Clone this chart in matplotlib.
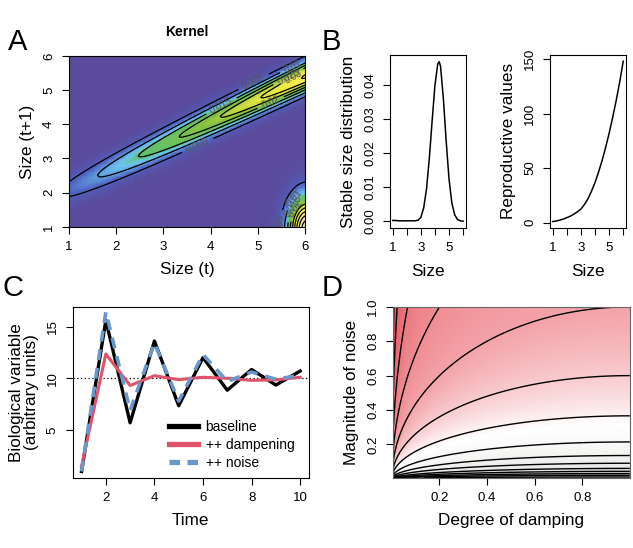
import numpy as np
import matplotlib
matplotlib.use('Agg')
import matplotlib.pyplot as plt
from matplotlib.colors import LinearSegmentedColormap, Normalize

plt.rcParams['font.family'] = ['Liberation Sans', 'DejaVu Sans']

grow_int, grow_slope, grow_sd = 1.44, 0.66, 0.30
amp0, amp_slope = 0.0065, 0.0058
fec_peak, fec_x, fec_y, fec_sdx, fec_sdy = 0.05, 6.05, 0.9, 0.27, 0.66
kernel_levels = [0.005, 0.01, 0.015, 0.02, 0.025, 0.03, 0.035, 0.04, 0.045]

# --- panel B
size_w = [1.0, 1.2, 1.4, 1.6, 1.8, 2.0, 2.2, 2.4, 2.6, 2.8, 3.0, 3.2, 3.4, 3.6,
          3.8, 4.0, 4.2, 4.3, 4.4, 4.6, 4.8, 5.0, 5.2, 5.4, 5.6, 5.8, 6.0]
stable_w = [0.0003, 0.0003, 0.0002, 0.0002, 0.0002, 0.0002, 0.0002, 0.0002, 0.0002,
            0.0004, 0.0012, 0.0040, 0.0095, 0.0185, 0.0295, 0.0400, 0.0462, 0.0469,
            0.0455, 0.0360, 0.0235, 0.0125, 0.0055, 0.0020, 0.0006, 0.0002, 0.0001]
size_v = [1.0, 1.25, 1.5, 1.75, 2.0, 2.25, 2.5, 2.75, 3.0, 3.25, 3.5, 3.75, 4.0,
          4.25, 4.5, 4.75, 5.0, 5.25, 5.5, 5.75, 6.0]
repro_v = [1.0, 1.5, 2.3, 3.3, 4.6, 6.0, 7.8, 10.0, 12.5, 16.8, 22, 29, 37,
           46.5, 57, 69, 82, 96.5, 112, 129, 148]

# --- panel C
time = [1, 2, 3, 4, 5, 6, 7, 8, 9, 10]
baseline = [1.0, 15.6, 5.7, 13.6, 7.35, 12.0, 8.85, 10.85, 9.35, 10.7]
dampening = [1.5, 12.35, 9.3, 10.25, 9.87, 10.1, 10.0, 9.8, 9.85, 10.1]
noise = [1.0, 16.4, 6.9, 13.4, 7.8, 12.3, 9.7, 10.6, 9.9, 10.3]

# --- panel D
noise_levels = [0.01, 0.02, 0.03, 0.043, 0.06, 0.09, 0.135, 0.214, 0.366, 0.6,
                1.0, 1.667, 2.8, 4.8, 8.0]

fig = plt.figure(figsize=(6.33, 5.48), dpi=100)
LAB = 12.3

def style(ax, rot=True):
    ax.tick_params(direction='out', length=5, width=0.8, labelsize=9.5, pad=5)
    if rot:
        for lb in ax.get_yticklabels():
            lb.set_rotation(90)
            lb.set_va('center')

# ---------------- A
axA = fig.add_axes([0.109, 0.586, 0.373, 0.312])
s = np.linspace(1, 6, 100)
X, Y = np.meshgrid(s, s)
mu = grow_int + grow_slope * X
K = (amp0 + amp_slope * (X - 1)) * np.exp(-(Y - mu) ** 2 / (2 * grow_sd ** 2))
K += fec_peak * np.exp(-(X - fec_x) ** 2 / (2 * fec_sdx ** 2)) * \
    np.exp(-(Y - fec_y) ** 2 / (2 * fec_sdy ** 2))
topo = LinearSegmentedColormap.from_list('topo', [
    (0.00, '#5b4b9d'), (0.14, '#5062c0'), (0.30, '#6cc6f0'), (0.36, '#5cc070'),
    (0.55, '#88c43c'), (0.68, '#d8e040'), (0.78, '#f2ec40'), (1.00, '#f4e0b8')])
axA.imshow(K, extent=[1, 6, 1, 6], origin='lower', aspect='auto', cmap=topo,
           interpolation='nearest', vmin=0, vmax=0.042)
cs = axA.contour(s, s, K, levels=kernel_levels, colors='black', linewidths=0.9)
axA.clabel(cs, fontsize=7, colors='#555555', fmt='%g', inline=True)
axA.set_xlim(1, 6)
axA.set_ylim(1, 6)
axA.set_xticks([1, 2, 3, 4, 5, 6])
axA.set_yticks([1, 2, 3, 4, 5, 6])
style(axA)
axA.set_xlabel('Size (t)', fontsize=LAB, labelpad=7)
axA.set_ylabel('Size (t+1)', fontsize=LAB, labelpad=6)
axA.set_title('Kernel', fontsize=10, fontweight='bold', pad=14)

# ---------------- B
axB1 = fig.add_axes([0.616, 0.584, 0.120, 0.316])
axB1.plot(size_w, stable_w, color='black', lw=1.1)
axB1.set_xlim(0.8, 6.2)
axB1.set_ylim(-0.0019, 0.0489)
axB1.set_xticks([1, 2, 3, 4, 5, 6])
axB1.set_xticklabels(['1', '', '3', '', '5', ''])
axB1.set_yticks([0, 0.01, 0.02, 0.03, 0.04])
axB1.set_yticklabels(['0.00', '0.01', '0.02', '0.03', '0.04'])
style(axB1)
axB1.set_xlabel('Size', fontsize=LAB, labelpad=7)
axB1.set_ylabel('Stable size distribution', fontsize=LAB, labelpad=6)

axB2 = fig.add_axes([0.869, 0.584, 0.120, 0.316])
axB2.plot(size_v, repro_v, color='black', lw=1.1)
axB2.set_xlim(0.8, 6.2)
axB2.set_ylim(-4.9, 153.9)
axB2.set_xticks([1, 2, 3, 4, 5, 6])
axB2.set_xticklabels(['1', '', '3', '', '5', ''])
axB2.set_yticks([0, 50, 100, 150])
style(axB2)
axB2.set_xlabel('Size', fontsize=LAB, labelpad=7)
axB2.set_ylabel('Reproductive values', fontsize=LAB, labelpad=6)

# ---------------- C
axC = fig.add_axes([0.115, 0.128, 0.373, 0.312])
axC.axhline(10, color='black', lw=0.9, ls=(0, (1, 2)))
axC.plot(time, baseline, color='black', lw=2.4, label='baseline')
axC.plot(time, dampening, color='#df536b', lw=2.2, label='++ dampening')
axC.plot(time, noise, color='#6a98cc', lw=2.6, ls=(0, (3, 2.2)), label='++ noise')
axC.set_xlim(0.64, 10.36)
axC.set_ylim(0.38, 16.9)
axC.set_xticks([2, 4, 6, 8, 10])
axC.set_yticks([5, 10, 15])
style(axC)
axC.set_xlabel('Time', fontsize=LAB, labelpad=7)
axC.set_ylabel('Biological variable\n(arbitrary units)', fontsize=LAB,
               labelpad=6, linespacing=0.95)
leg = axC.legend(loc='lower left', bbox_to_anchor=(0.395, 0.03), frameon=False,
                 fontsize=10, handlelength=2.1, handletextpad=0.55,
                 labelspacing=0.3, borderaxespad=0, borderpad=0.2)
for ln in leg.get_lines():
    ln.set_linewidth(3.8)
leg.get_lines()[2].set_dashes([2.0, 1.4])

# ---------------- D
axD = fig.add_axes([0.621, 0.128, 0.374, 0.312])
d = np.linspace(0.005, 1, 240)
n = np.linspace(0.005, 1, 240)
Dg, Ng = np.meshgrid(d, n)
L = Ng / np.sqrt(Dg * (2 - Dg))
reds = LinearSegmentedColormap.from_list('reds', [
    (0.00, '#d0ccca'), (0.33, '#efeeec'), (0.50, '#ffffff'),
    (0.67, '#f3a2a8'), (0.95, '#e6505a'), (1.00, '#e04048')])
axD.imshow(np.log10(L), extent=[0.005, 1, 0.005, 1], origin='lower',
           aspect='auto', cmap=reds, norm=Normalize(-2, 1),
           interpolation='bilinear')
axD.contour(d, n, L, levels=noise_levels, colors='black', linewidths=1.0)
axD.set_xlim(0.005, 1)
axD.set_ylim(0.005, 1)
axD.set_xticks([0.2, 0.4, 0.6, 0.8])
axD.set_yticks([0.2, 0.4, 0.6, 0.8, 1.0])
style(axD)
for sp in axD.spines.values():
    sp.set_color('#666666')
axD.set_xlabel('Degree of damping', fontsize=LAB, labelpad=7)
axD.set_ylabel('Magnitude of noise', fontsize=LAB, labelpad=6)

# panel letters
for lab, x, y in [('A', 0.012, 0.909), ('B', 0.508, 0.909),
                  ('C', 0.004, 0.459), ('D', 0.508, 0.459)]:
    fig.text(x, y, lab, fontsize=21, ha='left', va='baseline')

fig.savefig('out.png', dpi=100)
